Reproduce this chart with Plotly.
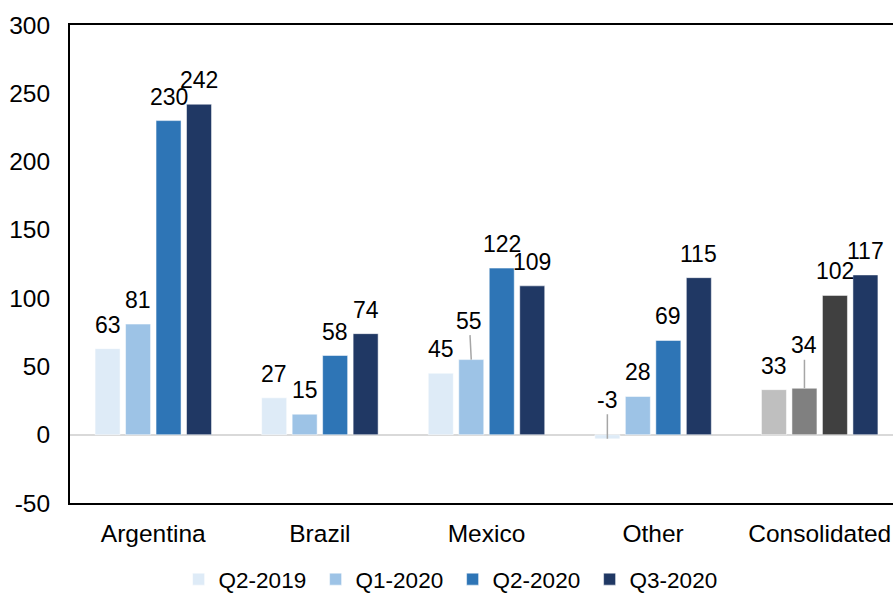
import plotly.graph_objects as go

categories = ["Argentina", "Brazil", "Mexico", "Other", "Consolidated"]
series_names = ["Q2-2019", "Q1-2020", "Q2-2020", "Q3-2020"]
q2_2019 = [63, 27, 45, -3, 33]
q1_2020 = [81, 15, 55, 28, 34]
q2_2020 = [230, 58, 122, 69, 102]
q3_2020 = [242, 74, 109, 115, 117]
y_ticks = [-50, 0, 50, 100, 150, 200, 250, 300]
y_tick_labels = ["-50", "0", "50", "100", "150", "200", "250", "300"]

series_values = [q2_2019, q1_2020, q2_2020, q3_2020]
series_colors = ["#deebf7", "#9dc3e6", "#2e75b6", "#203864"]
consolidated_colors = ["#bfbfbf", "#808080", "#404040", "#203864"]

W, H = 893, 593
ML, MR, MT, MB = 70, 0, 25, 90
X_RANGE = [-0.5, 4.44]
BARGAP = 0.268
BARGROUPGAP = 0.18
FONT = "Arial, Liberation Sans, sans-serif"
LABEL_SIZE = 23
TICK_SIZE = 24.5
LEGEND_SIZE = 22.5

unit_px = (W - ML - MR) / (X_RANGE[1] - X_RANGE[0])
slot_px = unit_px * (1 - BARGAP) / len(series_names)

# labels drawn with a leader line: (series index, category index) -> (ax, ay)
leader = {(1, 2): (-2, -39), (0, 3): (0, -39), (1, 4): (0, -43)}

fig = go.Figure()
for j, (name, vals) in enumerate(zip(series_names, series_values)):
    cols = [series_colors[j]] * (len(categories) - 1) + [consolidated_colors[j]]
    fig.add_trace(go.Bar(
        x=categories, y=vals, name=name,
        marker=dict(color=cols, line=dict(color="rgba(255,255,255,0.5)", width=1)),
    ))

annotations = []
for j, vals in enumerate(series_values):
    xs = (j - (len(series_names) - 1) / 2) * slot_px
    for i, v in enumerate(vals):
        if (j, i) in leader:
            ax, ay = leader[(j, i)]
            annotations.append(dict(
                x=categories[i], y=v, xref="x", yref="y", text=str(v),
                showarrow=True, arrowhead=0, arrowwidth=1.5, arrowcolor="#a6a6a6",
                ax=ax, ay=ay, xshift=xs, standoff=0,
                font=dict(family=FONT, size=LABEL_SIZE, color="#000000"),
            ))
        else:
            annotations.append(dict(
                x=categories[i], y=max(v, 0), xref="x", yref="y", text=str(v),
                showarrow=False, xshift=xs, yshift=24,
                font=dict(family=FONT, size=LABEL_SIZE, color="#000000"),
            ))

fig.update_layout(
    width=W, height=H,
    margin=dict(l=ML, r=MR, t=MT, b=MB, pad=0, autoexpand=False),
    paper_bgcolor="white", plot_bgcolor="white",
    barmode="group", bargap=BARGAP, bargroupgap=BARGROUPGAP,
    font=dict(family=FONT, size=TICK_SIZE, color="#000000"),
    showlegend=True,
    legend=dict(
        orientation="h", xref="container", yref="container",
        x=0.2, xanchor="left", y=0.059, yanchor="top",
        entrywidth=92, entrywidthmode="pixels",
        font=dict(family=FONT, size=LEGEND_SIZE, color="#000000"),
        traceorder="normal",
    ),
    annotations=annotations,
)
fig.update_xaxes(
    range=X_RANGE, showline=True, linecolor="#000000", linewidth=2, mirror=True,
    showgrid=False, ticks="", ticklabelstandoff=8, automargin=False,
    tickfont=dict(family=FONT, size=TICK_SIZE, color="#000000"),
)
fig.update_yaxes(
    range=[-50, 300], tickvals=y_ticks, ticktext=y_tick_labels,
    showline=True, linecolor="#000000", linewidth=2,
    mirror=False, showgrid=False, zeroline=True, zerolinecolor="#d9d9d9", zerolinewidth=2,
    ticks="", ticklabelstandoff=13, automargin=False,
    tickfont=dict(family=FONT, size=TICK_SIZE, color="#000000"),
)

fig.write_html(
    "out.html",
    config={"displayModeBar": False},
    post_script="document.body.style.margin='0px';"
                "document.documentElement.style.overflow='hidden';",
)
